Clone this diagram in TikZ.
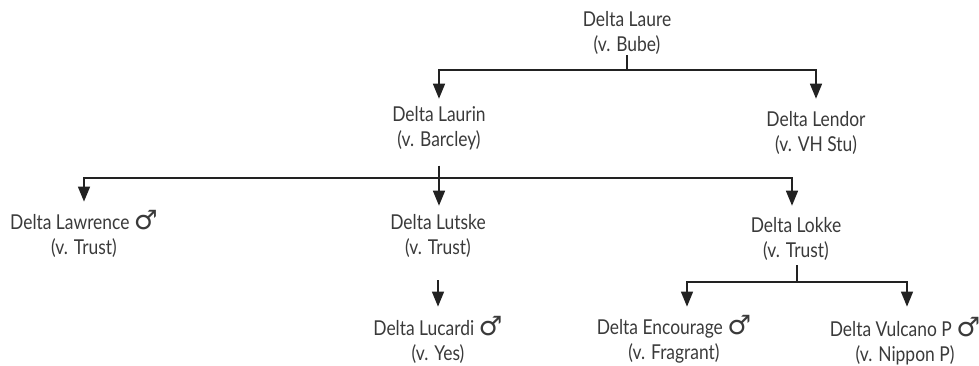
\documentclass[tikz,border=0pt]{standalone}
\usepackage{fontspec}
\setmainfont{Lato}[FakeStretch=0.85]
\newfontfamily\symfont{DejaVu Sans}[Scale=1.3]
\usetikzlibrary{arrows.meta}
\definecolor{txt}{HTML}{3A3A3A}
\definecolor{lin}{HTML}{222222}
\newcommand{\male}{{\symfont\char"2642}}
\tikzset{
  dog/.style={inner sep=0pt, align=center, anchor=base, text=txt,
    font=\fontsize{20.5}{25}\selectfont},
  ln/.style={draw=lin, line width=1.5pt},
  arr/.style={ln, -{Triangle[length=15pt,width=12pt]}},
}
\begin{document}
\begin{tikzpicture}[x=1pt,y=1pt]
\useasboundingbox (0,0) rectangle (979,-366);
% nodes (anchor = baseline of the last line)
\node[dog] (laure) at (627,-52) {Delta Laure\\(v. Bube)};
\node[dog] (laurin) at (439,-147) {Delta Laurin\\(v. Barcley)};
\node[dog] (lendor) at (816,-152) {Delta Lendor\\(v. VH Stu)};
\node[dog] (lawrence) at (84,-254) {Delta Lawrence \male\\(v. Trust)};
\node[dog] (lutske) at (438,-254) {Delta Lutske\\(v. Trust)};
\node[dog] (lokke) at (796,-257) {Delta Lokke\\(v. Trust)};
\node[dog] (lucardi) at (438,-360) {Delta Lucardi \male\\(v. Yes)};
\node[dog] (encourage) at (674,-359) {Delta Encourage \male\\(v. Fragrant)};
\node[dog] (vulcano) at (905,-361) {Delta Vulcano P \male\\(v. Nippon P)};
% junctions
\coordinate (j1) at (627,-70);
\coordinate (j2) at (439,-178);
\coordinate (j3) at (797,-282);
% connectors
\draw[ln] (laure.south) -- (j1);
\draw[arr, shorten >=8pt] (j1) -| (laurin.north);
\draw[arr, shorten >=13pt] (j1) -| (lendor.north);
\draw[ln, shorten <=15pt] (laurin.south) -- (j2);
\draw[arr, shorten >=8pt] (j2) -| (lawrence.north);
\draw[arr, shorten >=8pt] (j2) -- (lutske.north -| j2);
\draw[arr, shorten >=11pt] (j2) -| ([xshift=-4pt]lokke.north);
\draw[arr, shorten <=23pt, shorten >=9pt] (lutske.south) -- (lucardi.north);
\draw[ln, shorten <=5pt] (lokke.south -| j3) -- (j3);
\draw[arr, shorten >=8pt] (j3) -| ([xshift=13pt]encourage.north);
\draw[arr, shorten >=10pt] (j3) -| ([xshift=2pt]vulcano.north);
\end{tikzpicture}
\end{document}
